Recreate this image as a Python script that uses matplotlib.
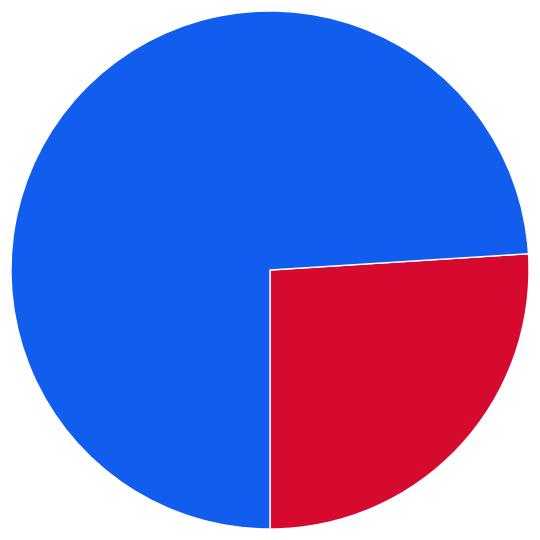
import matplotlib
matplotlib.use("Agg")
import matplotlib.pyplot as plt

labels = ["B", "A"]
values = [26, 74]
colors = ["#D60A2F", "#115EEE"]

fig = plt.figure(figsize=(5.4, 5.4), dpi=100)
ax = fig.add_axes([0, 0, 1, 1])
ax.pie(values, colors=colors, startangle=-90, counterclock=True,
       wedgeprops=dict(edgecolor="white", linewidth=1.0))
lim = 270 / 259
ax.set_xlim(-lim, lim)
ax.set_ylim(-lim, lim)
ax.set_aspect("equal")
ax.axis("off")
fig.savefig("out.png", dpi=100, facecolor="white")
